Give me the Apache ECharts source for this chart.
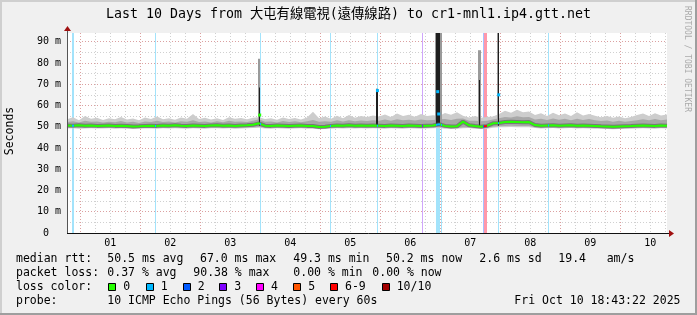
<!DOCTYPE html>
<html><head><meta charset="utf-8">
<script src="https://cdn.jsdelivr.net/npm/echarts@6/dist/echarts.min.js"></script>
<style>html,body{margin:0;padding:0;background:#f0f0f0}#c{width:697px;height:315px}</style>
</head><body><div id="c"></div>
<script>
// ---------- text ----------
const titleText = 'Last 10 Days from 大屯有線電視(遠傳線路) to cr1-mnl1.ip4.gtt.net';
const yAxisName = 'Seconds';
const watermark = 'RRDTOOL / TOBI OETIKER';
const dayLabels = ['01','02','03','04','05','06','07','08','09','10'];
const labelHours = [12,36,60,84,108,132,156,180,204,228];      // noon of each day (hours from Oct 01 00:00)
const yLabelValues = [0,10,20,30,40,50,60,70,80,90];            // ms
const yGridValues = [0,5,10,15,20,25,30,35,40,45,50,55,60,65,70,75,80,85,90];
const medianStats = ['median rtt:','50.5 ms avg','67.0 ms max','49.3 ms min','50.2 ms now','2.6 ms sd','19.4','am/s'];
const lossStats = ['packet loss:','0.37 % avg','90.38 % max','0.00 % min','0.00 % now'];
const lossLegend = ['0','1','2','3','4','5','6-9','10/10'];
const probeRow = ['probe:','10 ICMP Echo Pings (56 Bytes) every 60s','Fri Oct 10 18:43:22 2025'];

// ---------- time range (hours from Oct 01 00:00) ----------
const tStart = -5.28, tEnd = 234.72, sampleStep = 2.4;
const yMax = 94.1;

// ---------- series values (ms) ----------
const median = [
 50.6,50.5,50.7,50.5,50.6,50.4,50.5,50.6,50.4,50.5,
 50.3,50.1,50.2,50.4,50.5,50.4,50.6,50.5,50.7,50.5,
 50.4,50.6,50.5,50.4,50.6,50.7,50.5,50.6,50.4,50.6,
 50.7,50.9,51.6,50.5,50.4,50.6,50.5,50.3,50.5,50.6,
 50.4,50.3,49.9,50.0,50.4,50.6,50.5,50.7,50.5,50.6,
 50.5,50.6,50.5,50.4,50.6,50.5,50.4,50.6,50.5,50.4,
 50.5,50.6,51.2,50.4,50.1,50.2,52.4,50.7,50.3,50.0,
 50.4,51.6,51.8,52.2,52.3,52.2,52.1,52.2,50.8,50.5,
 50.6,50.7,50.5,50.6,50.7,50.5,50.6,50.5,50.4,50.2,
 50.1,50.0,50.1,50.2,50.3,50.5,50.6,50.5,50.4,50.6,
 50.5];
const smokeOuterHi = [
 53.5,54.5,53.0,55.0,53.8,54.2,53.2,54.0,53.5,54.6,
 53.4,53.9,53.1,54.3,53.6,54.8,53.5,54.0,53.3,54.4,
 53.8,56.0,53.6,54.2,53.4,54.0,53.2,54.5,53.7,54.1,
 53.5,54.2,54.5,53.6,54.0,53.3,54.4,53.6,54.1,53.4,
 54.3,57.0,54.0,54.8,53.8,55.2,54.0,55.5,54.2,55.0,
 54.6,55.3,54.8,55.8,54.6,56.2,55.0,55.6,54.7,56.0,
 55.1,55.4,55.0,56.5,55.6,56.8,55.2,54.4,55.0,54.2,
 54.6,54.8,56.0,57.5,56.6,58.0,56.8,57.2,55.5,56.4,
 55.0,56.6,55.4,56.2,55.0,56.8,55.3,56.0,55.2,54.5,
 55.0,54.2,54.8,54.0,54.6,55.5,56.2,55.0,56.4,55.3,
 55.8];
const smokeInnerHi = [
 52.2,52.6,52.0,52.8,52.3,52.5,52.0,52.4,52.1,52.7,
 52.0,52.3,51.8,52.5,52.2,52.8,52.2,52.5,52.0,52.6,
 52.3,53.0,52.2,52.5,52.0,52.6,52.1,52.8,52.3,52.5,
 52.2,52.8,53.5,52.3,52.5,52.0,52.7,52.2,52.6,52.1,
 52.6,53.2,52.3,52.6,52.4,53.0,52.5,53.1,52.6,52.9,
 52.7,53.0,52.8,53.4,52.8,53.5,53.0,53.3,52.9,53.4,
 53.0,53.2,53.5,53.6,53.2,53.8,53.9,52.8,52.8,52.6,
 52.8,53.4,54.0,54.6,54.3,54.9,54.5,54.6,53.4,53.8,
 53.2,53.9,53.3,53.7,53.1,53.8,53.2,53.6,53.0,52.7,
 52.9,52.4,52.8,52.3,52.7,53.1,53.5,53.0,53.6,53.1,
 53.4];
const smokeInnerLo = [
 49.6,49.7,49.6,49.5,49.7,49.6,49.6,49.7,49.5,49.6,
 49.5,49.3,49.4,49.6,49.6,49.5,49.7,49.6,49.7,49.6,
 49.5,49.7,49.6,49.5,49.7,49.7,49.6,49.7,49.5,49.6,
 49.7,49.8,49.9,49.6,49.5,49.7,49.6,49.4,49.6,49.7,
 49.5,49.4,49.2,49.3,49.5,49.7,49.6,49.7,49.6,49.7,
 49.6,49.7,49.6,49.5,49.7,49.6,49.5,49.7,49.6,49.5,
 49.6,49.7,49.8,49.5,49.3,49.4,49.7,49.8,49.5,49.3,
 49.5,50.0,50.2,50.4,50.5,50.4,50.3,50.4,49.8,49.6,
 49.7,49.8,49.6,49.7,49.8,49.6,49.7,49.6,49.5,49.4,
 49.3,49.2,49.3,49.4,49.5,49.6,49.7,49.6,49.5,49.7,
 49.6];
const smokeOuterLo = [
 49.2,49.3,49.1,49.2,49.3,49.2,49.2,49.3,49.1,49.2,
 49.1,48.9,49.0,49.2,49.2,49.1,49.3,49.2,49.3,49.2,
 49.1,49.3,49.2,49.1,49.3,49.3,49.2,49.3,49.1,49.2,
 49.3,49.4,49.5,49.2,49.1,49.3,49.2,49.0,49.2,49.3,
 49.1,49.0,48.8,48.9,49.1,49.3,49.2,49.3,49.2,49.3,
 49.2,49.3,49.2,49.1,49.3,49.2,49.1,49.3,49.2,49.1,
 49.2,49.3,49.4,49.1,48.9,49.0,49.3,49.4,49.1,48.9,
 49.1,49.5,49.7,49.8,49.9,49.8,49.7,49.8,49.4,49.2,
 49.3,49.4,49.2,49.3,49.4,49.2,49.3,49.2,49.1,49.0,
 48.9,48.8,48.9,49.0,49.1,49.2,49.3,49.2,49.1,49.3,
 49.2];

// spikes: start hour, end hour, low ms, top ms
const spikeGrayStart = [71.3, 118.3, 142.1, 159.1, 166.9];
const spikeGrayEnd   = [72.1, 119.1, 144.7, 160.3, 167.7];
const spikeGrayTop   = [82.0, 68.0, 94.1, 86.0, 94.1];
const spikeDarkStart = [71.5, 118.5, 142.5, 159.5, 167.1];
const spikeDarkEnd   = [72.1, 119.1, 143.9, 160.1, 167.7];
const spikeDarkTop   = [68.5, 67.5, 94.1, 72.0, 94.1];
const spikeBase = 50.5;
// medians at spike times: hour, ms, loss level index
const spikeMedianHour  = [71.8, 118.9, 143.0, 143.4, 167.4];
const spikeMedianValue = [55.5, 67.0, 66.5, 56.0, 65.0];
const spikeMedianLoss  = [0, 1, 1, 1, 1];

// loss events: start hour, end hour, loss level index (0..7 -> 0,1,2,3,4,5,6-9,10/10)
const lossStart = [-3.3, 30.1, 72.1, 99.9, 118.7, 136.7, 142.3, 144.3, 161.1, 161.5, 167.1, 187.1];
const lossEnd   = [-2.5, 30.5, 72.5, 100.3, 119.1, 137.1, 143.9, 144.7, 161.5, 162.7, 167.5, 187.5];
const lossLevel = [1, 1, 1, 1, 1, 3, 1, 1, 2, 6, 1, 1];

// ---------- styles ----------
const lossColors = ['#26ff00','#00b8ff','#0059ff','#7e00ff','#ff00ff','#ff5500','#ff0000','#a10000'];
const lossBarColors = ['#b0ffa0','#a3e3fb','#a6c2ff','#cfa6fb','#ffa6ff','#ffc3a6','#ff98aa','#dba0a0'];
const MONO = '"DejaVu Sans Mono", "Noto Sans CJK TC", monospace';
const G = {left: 67, top: 33, width: 600, height: 200};

const times = median.map((_, i) => +(tStart + sampleStep * i).toFixed(2));
const gridHours = [];
for (let h = 0; h <= tEnd; h += 6) gridHours.push(h);

function band(lo, hi, color) {
  return {
    type: 'custom', silent: true, clip: true,
    data: times.map((t, i) => [t, lo[i], hi[i]]),
    encode: {x: 0, y: [1, 2]},
    renderItem(params, api) {
      if (params.dataIndex !== 0) return null;
      const pts = [];
      for (let i = 0; i < times.length; i++) pts.push(api.coord([times[i], hi[i]]));
      for (let i = times.length - 1; i >= 0; i--) pts.push(api.coord([times[i], lo[i]]));
      return {type: 'polygon', shape: {points: pts}, style: {fill: color}};
    }
  };
}
function spikes(st, en, top, color) {
  return {
    type: 'custom', silent: true, clip: true,
    data: st.map((s, i) => [s, en[i], spikeBase, top[i]]),
    encode: {x: [0, 1], y: [2, 3]},
    renderItem(params, api) {
      const a = api.coord([api.value(0), api.value(3)]);
      const b = api.coord([api.value(1), api.value(2)]);
      const x0 = Math.round(a[0]);
      const w = Math.max(1, Math.round(b[0]) - x0);
      return {type: 'rect', shape: {x: x0, y: a[1], width: w, height: b[1] - a[1]}, style: {fill: color}};
    }
  };
}

const series = [
  { // loss bars, full height
    type: 'custom', silent: true, clip: true,
    data: lossStart.map((s, i) => [s, lossEnd[i], lossLevel[i]]),
    encode: {x: [0, 1], y: -1},
    renderItem(params, api) {
      const a = api.coord([api.value(0), yMax]);
      const b = api.coord([api.value(1), 0]);
      const x0 = Math.round(a[0]);
      const w = Math.max(1, Math.round(b[0]) - x0);
      return {type: 'rect', shape: {x: x0, y: a[1], width: w, height: b[1] - a[1]}, style: {fill: lossBarColors[api.value(2)]}};
    }
  },
  band(smokeOuterLo, smokeOuterHi, '#cdcdcd'),
  band(smokeInnerLo, smokeInnerHi, '#a8a8a8'),
  spikes(spikeGrayStart, spikeGrayEnd, spikeGrayTop, '#9a9a9a'),
  spikes(spikeDarkStart, spikeDarkEnd, spikeDarkTop, '#1e1e1e'),
  {type: 'line', silent: true, data: times.map((t, i) => [t, median[i]]), symbol: 'none',
   lineStyle: {width: 4, color: '#505050', opacity: 0.55}},
  {type: 'line', silent: true, data: times.map((t, i) => [t, median[i]]), symbol: 'none',
   lineStyle: {width: 2}},
  {type: 'scatter', silent: true, symbol: 'rect', symbolSize: 3,
   data: spikeMedianHour.map((h, i) => [h, spikeMedianValue[i], spikeMedianLoss[i]]),
   itemStyle: {color: p => lossColors[p.data[2]], opacity: 1}}
];
const MEDIAN_INDEX = 6;

const graphic = [];
// frame
graphic.push({type: 'rect', z: 50, shape: {x: 0, y: 0, width: 697, height: 2}, style: {fill: '#cfcfcf'}});
graphic.push({type: 'rect', z: 50, shape: {x: 0, y: 0, width: 2, height: 315}, style: {fill: '#cfcfcf'}});
graphic.push({type: 'rect', z: 50, shape: {x: 695, y: 0, width: 2, height: 315}, style: {fill: '#9e9e9e'}});
graphic.push({type: 'rect', z: 50, shape: {x: 0, y: 313, width: 697, height: 2}, style: {fill: '#9e9e9e'}});
// title
graphic.push({type: 'text', x: 348.5, y: 15, style: {text: titleText, fontSize: 13.3, fontFamily: MONO, fill: '#000', align: 'center', verticalAlign: 'middle'}});
// y axis name
graphic.push({type: 'text', x: 10.5, y: 131, rotation: Math.PI / 2, style: {text: yAxisName, fontSize: 11.5, fontFamily: MONO, fill: '#000', align: 'center', verticalAlign: 'middle'}});
// watermark
graphic.push({type: 'text', x: 687, y: 59, rotation: -Math.PI / 2, style: {text: watermark, fontSize: 8, fontFamily: MONO, fill: '#aaaaaa', align: 'center', verticalAlign: 'middle'}});
// axes and arrows
graphic.push({type: 'line', z: 100, shape: {x1: G.left + 0.5, y1: G.top + G.height, x2: G.left + 0.5, y2: G.top - 3}, style: {stroke: '#555', lineWidth: 1}});
graphic.push({type: 'line', z: 100, shape: {x1: G.left, y1: G.top + G.height + 0.5, x2: G.left + G.width + 3, y2: G.top + G.height + 0.5}, style: {stroke: '#111', lineWidth: 1}});
graphic.push({type: 'polygon', z: 101, shape: {points: [[G.left - 3, G.top - 2], [G.left + 4, G.top - 2], [G.left + 0.5, G.top - 7]]}, style: {fill: '#a01010'}});
graphic.push({type: 'polygon', z: 101, shape: {points: [[G.left + G.width + 2, G.top + G.height - 3], [G.left + G.width + 2, G.top + G.height + 4], [G.left + G.width + 7, G.top + G.height + 0.5]]}, style: {fill: '#a01010'}});
// legend
const rowY = [259.3, 273.3, 287.3, 301.3];
const txt = (x, y, s, align) => ({type: 'text', x: x, y: y, style: {text: s, fontSize: 11.5, fontFamily: MONO, fill: '#000', align: align || 'left', verticalAlign: 'middle'}});
[16, 107.3, 200, 293.3, 386, 479.3, 558.3, 606.7].forEach((x, i) => graphic.push(txt(x, rowY[0], medianStats[i])));
[16, 107.3, 193.3, 293.3, 372.3].forEach((x, i) => graphic.push(txt(x, rowY[1], lossStats[i])));
graphic.push(txt(16, rowY[2], 'loss color:'));
const boxX = [108.3, 145.7, 182.7, 219.3, 256, 293.3, 330, 381.7];
boxX.forEach((x, i) => {
  graphic.push({type: 'rect', shape: {x: Math.round(x) + 0.5, y: Math.round(rowY[2] - 4) + 0.5, width: 7, height: 7}, style: {fill: lossColors[i], stroke: '#000', lineWidth: 1}});
  graphic.push(txt(x + 15, rowY[2], lossLegend[i]));
});
graphic.push(txt(16, rowY[3], probeRow[0]));
graphic.push(txt(107.3, rowY[3], probeRow[1]));
graphic.push(txt(680.5, rowY[3], probeRow[2], 'right'));

const chart = echarts.init(document.getElementById('c'), null, {renderer: 'canvas'});
chart.setOption({
  animation: false,
  backgroundColor: '#f0f0f0',
  grid: {left: G.left, top: G.top, width: G.width, height: G.height, containLabel: false, show: true, backgroundColor: '#ffffff', borderWidth: 0},
  xAxis: {
    type: 'value', min: tStart, max: tEnd,
    axisLine: {show: false},
    axisTick: {show: false, customValues: gridHours},
    axisLabel: {customValues: labelHours, margin: 5, fontSize: 10, fontFamily: MONO, color: '#000',
      formatter: v => dayLabels[labelHours.indexOf(Math.round(v))] || ''},
    splitLine: {show: true, lineStyle: {color: ['#dba0a0', '#d0d0d0', '#d0d0d0', '#d0d0d0'], type: [1, 2], width: 1}}
  },
  yAxis: {
    type: 'value', min: 0, max: yMax,
    axisLine: {show: false},
    axisTick: {show: false, customValues: yGridValues},
    axisLabel: {customValues: yLabelValues, margin: 6, fontSize: 10, fontFamily: MONO, color: '#000',
      formatter: v => v === 0 ? '0  ' : v + ' m'},
    splitLine: {show: true, lineStyle: {color: ['#dba0a0', '#d0d0d0'], type: [1, 2], width: 1}}
  },
  visualMap: [{
    type: 'piecewise', show: false, seriesIndex: MEDIAN_INDEX, dimension: 0,
    pieces: lossStart.map((s, i) => ({gte: s, lt: lossEnd[i], color: lossColors[lossLevel[i]]})),
    outOfRange: {color: lossColors[0]}
  }],
  series: series,
  graphic: graphic
});
</script></body></html>
